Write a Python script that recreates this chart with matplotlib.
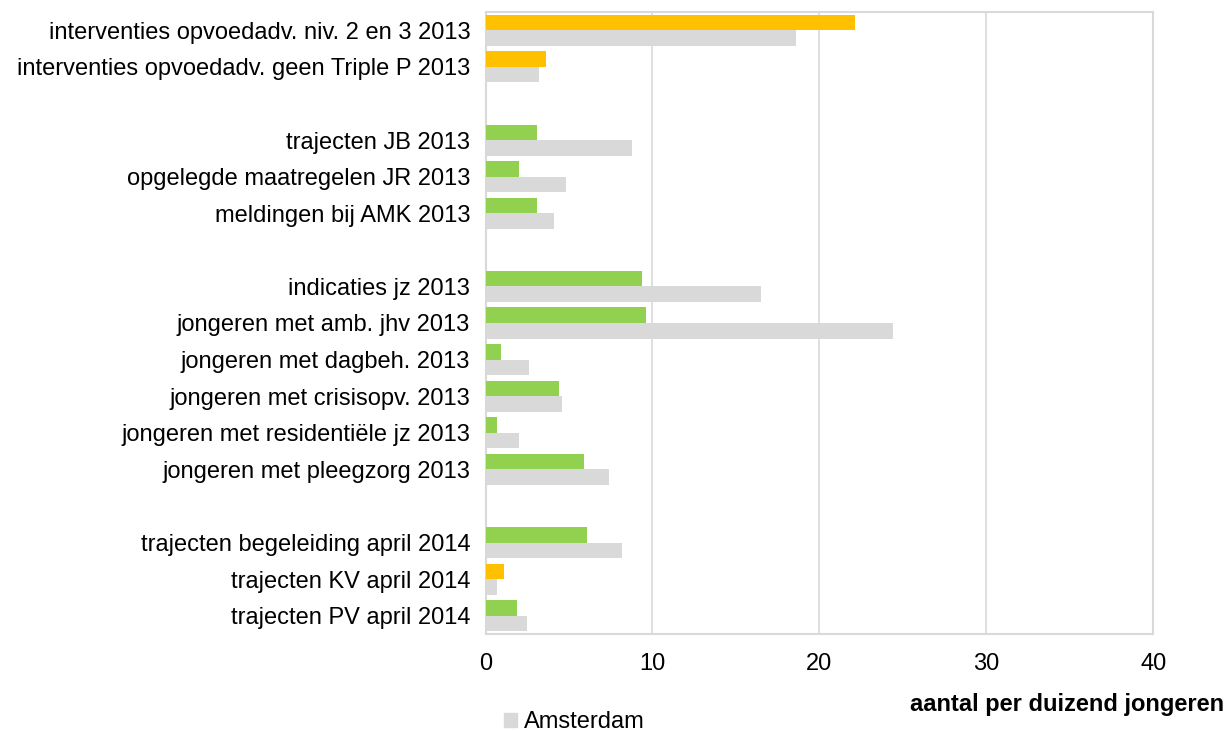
import matplotlib
matplotlib.use("Agg")
import matplotlib.pyplot as plt
import numpy as np

plt.rcParams['font.family'] = ['Liberation Sans', 'DejaVu Sans']

# groups of categories (a blank row separates groups)
groups = [
    ["interventies opvoedadv. niv. 2 en 3 2013",
     "interventies opvoedadv. geen Triple P 2013"],
    ["trajecten JB 2013",
     "opgelegde maatregelen JR 2013",
     "meldingen bij AMK 2013"],
    ["indicaties jz 2013",
     "jongeren met amb. jhv 2013",
     "jongeren met dagbeh. 2013",
     "jongeren met crisisopv. 2013",
     "jongeren met residentiële jz 2013",
     "jongeren met pleegzorg 2013"],
    ["trajecten begeleiding april 2014",
     "trajecten KV april 2014",
     "trajecten PV april 2014"],
]

# region values (per group)
region_values = [
    [22.1, 3.6],
    [3.1, 2.0, 3.1],
    [9.4, 9.6, 0.9, 4.4, 0.7, 5.9],
    [6.1, 1.1, 1.9],
]
# region flag: 'hoog' (orange) or 'ok' (green)
region_flags = [
    ["hoog", "hoog"],
    ["ok", "ok", "ok"],
    ["ok", "ok", "ok", "ok", "ok", "ok"],
    ["ok", "hoog", "ok"],
]
amsterdam_values = [
    [18.6, 3.2],
    [8.8, 4.8, 4.1],
    [16.5, 24.4, 2.6, 4.6, 2.0, 7.4],
    [8.2, 0.7, 2.5],
]

xticks = [0, 10, 20, 30, 40]
xlabel = "aantal per duizend jongeren"
legend_label = "Amsterdam"

flag_colors = {"hoog": "#FFC000", "ok": "#92D050"}
gray = "#D9D9D9"

# build positions
labels, pos, rv, rc, av = [], [], [], [], []
p = 0
for gi, g in enumerate(groups):
    for ci, c in enumerate(g):
        labels.append(c)
        pos.append(p)
        rv.append(region_values[gi][ci])
        rc.append(flag_colors[region_flags[gi][ci]])
        av.append(amsterdam_values[gi][ci])
        p += 1
    p += 1
nslots = p - 1
pos = np.array(pos, dtype=float)

fs = 17
fig = plt.figure(figsize=(12.27, 7.31), dpi=100)
ax = fig.add_axes([0.3957, 0.1327, 0.940 - 0.3957, 0.9836 - 0.1327])

h = 0.424
ax.barh(pos - h / 2, rv, height=h, color=rc, zorder=3)
ax.barh(pos + h / 2, av, height=h, color=gray, zorder=3)

ax.set_ylim(nslots - 0.5, -0.5)
ax.set_xlim(0, 40)
ax.set_xticks(xticks)
ax.set_xticklabels([str(t) for t in xticks], fontsize=fs)
ax.set_yticks(pos)
ax.set_yticklabels(labels, fontsize=fs)
ax.tick_params(axis='both', length=0)
ax.tick_params(axis='y', pad=11)
ax.tick_params(axis='x', pad=14)
ax.xaxis.grid(True, color="#D9D9D9", linewidth=1.2, zorder=0)
ax.set_axisbelow(True)
for s in ax.spines.values():
    s.set_color("#D9D9D9")
    s.set_linewidth(1.5)

fig.text(0.998, 1 - 705 / 731, xlabel, ha='right', va='center',
         fontsize=fs, fontweight='bold')

# legend (single visible entry)
leg_handle = plt.Rectangle((0, 0), 1, 1, color=gray)
fig.legend([leg_handle], [legend_label], loc='center left',
           bbox_to_anchor=(0.411, 1 - 722 / 731), frameon=False,
           fontsize=fs, handlelength=0.55, handleheight=0.55,
           handletextpad=0.3, borderpad=0, borderaxespad=0)

fig.savefig("out.png", dpi=100)
